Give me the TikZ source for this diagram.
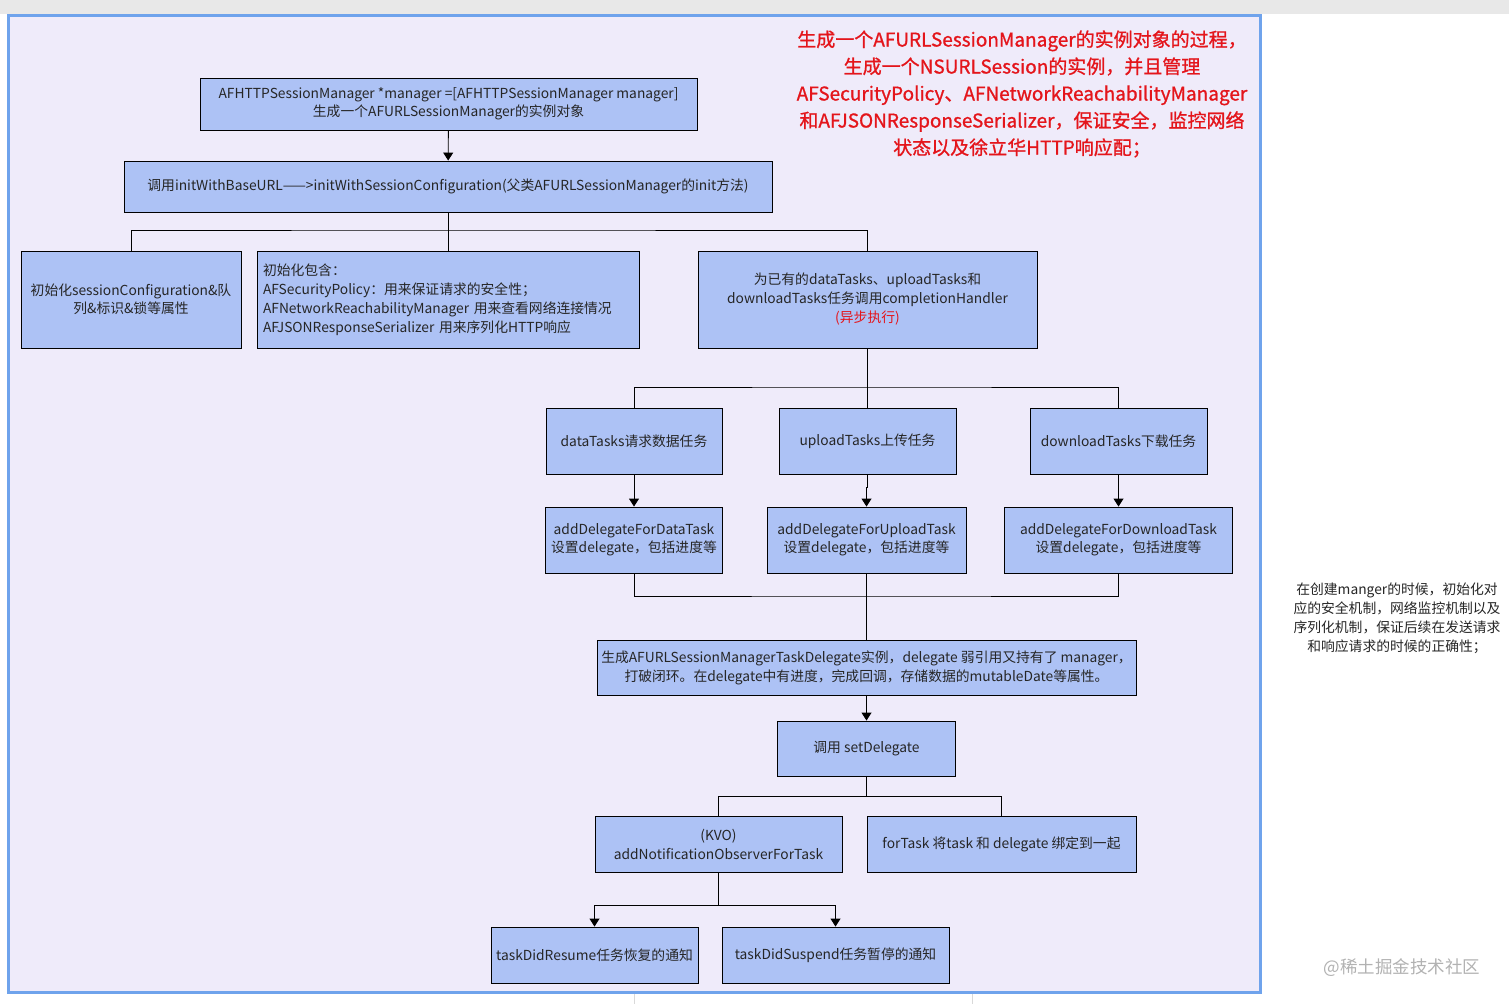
\documentclass[tikz,border=0pt]{standalone}
\usepackage{fontspec}
\setmainfont{Noto Sans CJK SC}
\newfontfamily\redfont[FakeBold=1]{Noto Sans CJK SC}
\usetikzlibrary{arrows.meta}
\definecolor{boxblue}{HTML}{ADC2F5}
\definecolor{panel}{HTML}{EFEBFA}
\definecolor{panelline}{HTML}{6FA3EC}
\definecolor{notered}{HTML}{E4151B}
\definecolor{bargrey}{HTML}{E8E8E8}
\begin{document}
\begin{tikzpicture}[x=1pt,y=-1pt,
		flowbox/.style={draw=black, fill=boxblue, line width=0.9pt, inner sep=0pt, align=center,
			text=black!85, font=\fontsize{13.8}{18}\selectfont},
		link/.style={draw=black, line width=0.9pt},
		arrow/.style={link, -{Triangle[width=10pt,length=8pt]}}]
	\useasboundingbox (0,0) rectangle (1509,1004);
	\fill[white] (0,0) rectangle (1509,1004);
	\fill[bargrey] (0,0) rectangle (1509,14);
	\draw[black!15] (634,993) -- (634,1004);
	\draw[black!15] (972,993) -- (972,1004);
	\filldraw[fill=panel, draw=panelline, line width=3pt] (8,15) rectangle (1260,992);

	% red note at the top
	\node[text=notered, align=center, font=\redfont\fontsize{19}{27}\selectfont] (title) at (1022,94)
		{生成一个AFURLSessionManager的实例对象的过程，\\
		 生成一个NSURLSession的实例，并且管理\\
		 AFSecurityPolicy、AFNetworkReachabilityManager\\
		 和AFJSONResponseSerializer，保证安全，监控网络\\
		 状态以及徐立华HTTP响应配；};

	% first part
	\node[flowbox, minimum width=497, minimum height=52] (top) at (448.5,104)
		{AFHTTPSessionManager *manager =[AFHTTPSessionManager manager]\\生成一个AFURLSessionManager的实例对象};
	\node[flowbox, minimum width=648, minimum height=51] (init) at (448,186.5)
		{调用initWithBaseURL——>initWithSessionConfiguration(父类AFURLSessionManager的init方法)};
	\node[flowbox, minimum width=220, minimum height=97, text width=214] (conf) at (131,299.5)
		{初始化sessionConfiguration\&队\\列\&标识\&锁等属性};
	\node[flowbox, minimum width=382, minimum height=97, text width=370, align=left, font=\fontsize{13.8}{19}\selectfont] (incl) at (448,299.5)
		{初始化包含：\\AFSecurityPolicy：用来保证请求的安全性；\\AFNetworkReachabilityManager 用来查看网络连接情况\\AFJSONResponseSerializer 用来序列化HTTP响应};
	\node[flowbox, minimum width=339, minimum height=97, font=\fontsize{13.8}{19}\selectfont] (handler) at (867.5,299.5)
		{为已有的dataTasks、uploadTasks和\\downloadTasks任务调用completionHandler\\\textcolor{notered}{(异步执行)}};

	% tasks
	\node[flowbox, minimum width=176, minimum height=66] (data) at (634,441) {dataTasks请求数据任务};
	\node[flowbox, minimum width=177, minimum height=66] (upload) at (867.5,441) {uploadTasks上传任务};
	\node[flowbox, minimum width=177, minimum height=66] (download) at (1118.5,441) {downloadTasks下载任务};
	\node[flowbox, minimum width=177, minimum height=66] (addData) at (634,540)
		{addDelegateForDataTask\\设置delegate，包括进度等};
	\node[flowbox, minimum width=199, minimum height=66] (addUpload) at (866.5,540)
		{addDelegateForUploadTask\\设置delegate，包括进度等};
	\node[flowbox, minimum width=228, minimum height=66] (addDownload) at (1118.5,540)
		{addDelegateForDownloadTask\\设置delegate，包括进度等};

	% delegate part
	\node[flowbox, minimum width=539, minimum height=55, font=\fontsize{13.8}{19}\selectfont] (taskDel) at (866.5,667.5)
		{生成AFURLSessionManagerTaskDelegate实例，delegate 弱引用又持有了 manager，\\打破闭环。在delegate中有进度，完成回调，存储数据的mutableDate等属性。};
	\node[flowbox, minimum width=178, minimum height=55] (setDel) at (866.5,748.5) {调用 setDelegate};
	\node[flowbox, minimum width=247, minimum height=56, font=\fontsize{13.8}{19}\selectfont] (kvo) at (718.5,844)
		{(KVO)\\addNotificationObserverForTask};
	\node[flowbox, minimum width=269, minimum height=56] (forTask) at (1001.5,844) {forTask 将task 和 delegate 绑定到一起};
	\node[flowbox, minimum width=207, minimum height=56] (resume) at (594.5,955) {taskDidResume任务恢复的通知};
	\node[flowbox, minimum width=227, minimum height=56] (suspend) at (835.5,955) {taskDidSuspend任务暂停的通知};

	% junctions
	\coordinate (split1) at (448,230);
	\coordinate (split2) at (867.5,387);
	\coordinate (merge) at (866.5,596);
	\coordinate (split3) at (866.5,796);
	\coordinate (split4) at (718.5,905);

	% connectors
	\draw[arrow] (top) -- (init);
	\draw[link] (init.south) -- (split1);
	\draw[link] (conf.north) |- (split1) -| (handler.north);
	\draw[link] (split1) -- (incl.north);

	\draw[link] (handler.south) -- (split2);
	\draw[link] (data.north) |- (split2) -| (download.north);
	\draw[link] (split2) -- (upload.north);

	\draw[arrow] (data) -- (addData);
	\draw[arrow] (upload.south) -- ++(0,13) -| (addUpload.north);
	\draw[arrow] (download) -- (addDownload);

	\draw[link] (addData.south) |- (merge) -| (addDownload.south);
	\draw[link] (addUpload.south) -- (merge) -- (taskDel.north);
	\draw[arrow] (taskDel.south) -- (setDel.north);

	\draw[link] (setDel.south) -- (split3);
	\draw[link] (kvo.north) |- (split3) -| (forTask.north);

	\draw[link] (kvo.south) -- (split4);
	\draw[arrow] (split4) -| (resume.north);
	\draw[arrow] (split4) -| (suspend.north);

	% side note and mark
	\node[align=center, text=black!85, font=\fontsize{13.8}{19}\selectfont] (note) at (1397,618)
		{在创建manger的时候，初始化对\\应的安全机制，网络监控机制以及\\序列化机制，保证后续在发送请求\\和响应请求的时候的正确性；};
	\node[text=black!30, font=\fontsize{17.5}{20}\selectfont] (mark) at (1402,968) {@稀土掘金技术社区};
\end{tikzpicture}
\end{document}
